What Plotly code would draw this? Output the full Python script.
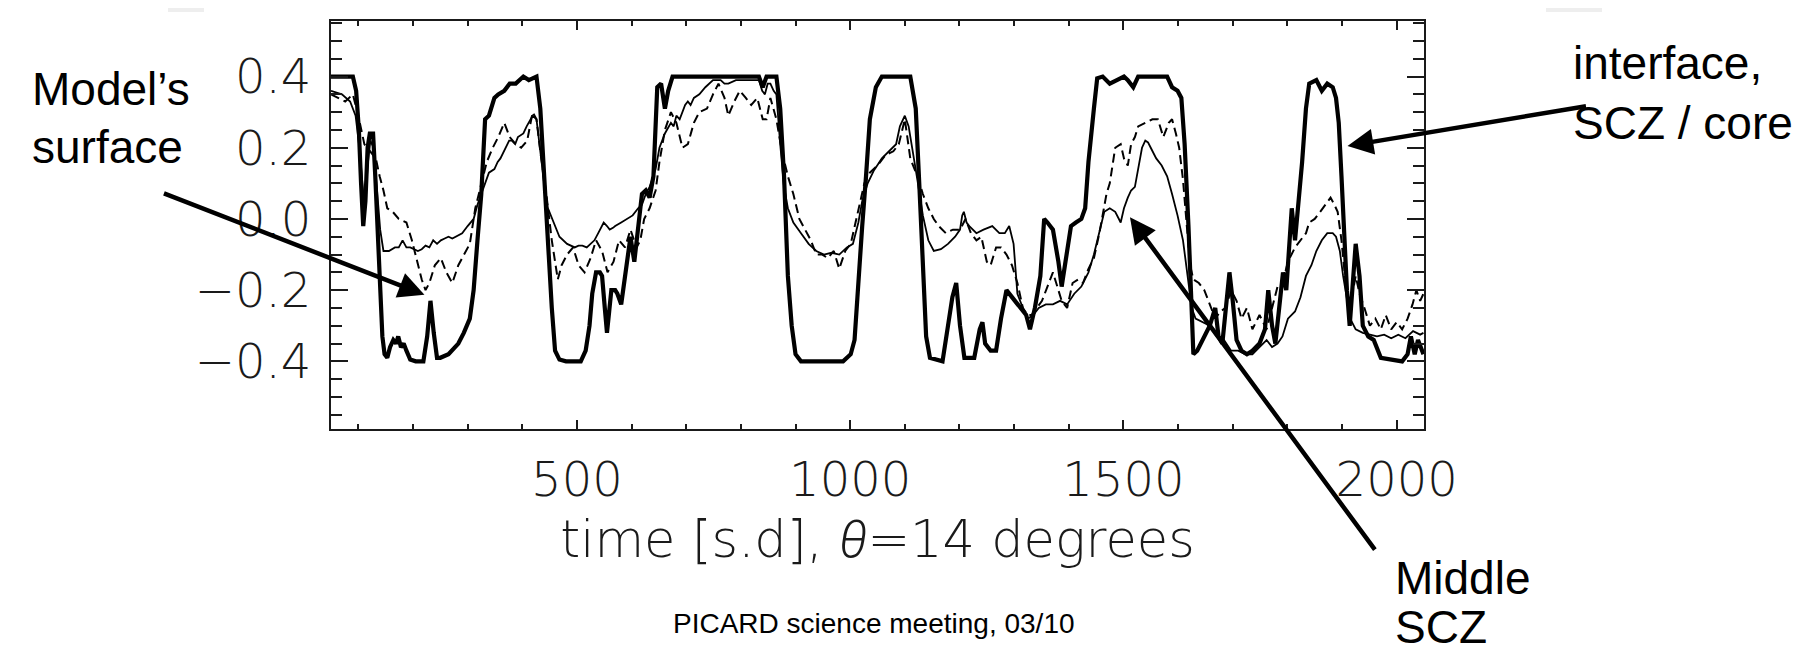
import plotly.graph_objects as go

# ---------------- data ----------------
# interface, SCZ / core  (bold line)
t_core = [50, 90, 96, 101, 105, 109, 113, 117, 121, 127, 131, 136, 140, 144, 148, 153, 158, 164, 169, 173,
          178, 183, 188, 195, 205, 219, 226, 232, 238, 244, 250, 265, 283, 293, 304, 311, 318, 325, 332, 339,
          349, 356, 367, 377, 388, 395, 402, 412, 426, 433, 440, 447, 454, 460, 468, 480, 507, 516, 523, 528,
          535, 542, 546, 551, 555, 559, 563, 570, 574, 581, 586, 591, 598, 605, 612, 619, 626, 633, 640, 644,
          647, 654, 658, 661, 667, 675, 833, 840, 847, 865, 872, 879, 886, 893, 900, 910, 987, 1001, 1008, 1015,
          1022, 1029, 1036, 1047, 1058, 1110, 1120, 1127, 1133, 1139, 1146, 1169, 1179, 1187, 1194, 1201, 1209, 1227, 1237, 1242,
          1247, 1257, 1267, 1276, 1286, 1296, 1302, 1312, 1322, 1329, 1338, 1348, 1355, 1361, 1371, 1381, 1387, 1394, 1404, 1413,
          1423, 1430, 1436, 1446, 1452, 1462, 1475, 1488, 1501, 1508, 1518, 1527, 1580, 1589, 1599, 1606, 1612, 1619, 1624, 1628,
          1635, 1645, 1658, 1668, 1674, 1681, 1687, 1694, 1700, 1707, 1716, 1726, 1736, 1749, 1759, 1765, 1772, 1778, 1785, 1792,
          1798, 1808, 1814, 1820, 1827, 1834, 1840, 1853, 1863, 1873, 1883, 1889, 1894, 1899, 1904, 1909, 1914, 1919, 1925, 1932,
          1938, 1948, 1958, 1971, 1990, 2010, 2020, 2026, 2033, 2039, 2049]
v_core = [0.40, 0.40, 0.36, 0.25, 0.10, -0.02, 0.05, 0.20, 0.24, 0.24, 0.12, -0.05, -0.20, -0.33, -0.38, -0.39, -0.36, -0.34, -0.35, -0.33,
          -0.36, -0.35, -0.37, -0.395, -0.40, -0.40, -0.33, -0.23, -0.32, -0.39, -0.39, -0.38, -0.35, -0.32, -0.28, -0.20, -0.06, 0.07, 0.28, 0.29,
          0.34, 0.35, 0.36, 0.38, 0.38, 0.39, 0.40, 0.39, 0.40, 0.31, 0.12, -0.06, -0.25, -0.37, -0.395, -0.40, -0.40, -0.37, -0.30, -0.21,
          -0.15, -0.15, -0.16, -0.25, -0.32, -0.26, -0.20, -0.20, -0.21, -0.24, -0.18, -0.13, -0.05, -0.12, -0.01, 0.07, 0.08, 0.06, 0.12, 0.25,
          0.37, 0.38, 0.33, 0.31, 0.36, 0.40, 0.40, 0.37, 0.40, 0.40, 0.31, 0.12, -0.16, -0.30, -0.38, -0.40, -0.40, -0.38, -0.34, -0.16,
          -0.02, 0.12, 0.28, 0.37, 0.40, 0.40, 0.31, 0.08, -0.16, -0.33, -0.39, -0.40, -0.30, -0.22, -0.18, -0.30, -0.39, -0.39, -0.31, -0.29,
          -0.35, -0.37, -0.37, -0.28, -0.20, -0.22, -0.23, -0.25, -0.27, -0.31, -0.25, -0.16, 0.00, -0.01, -0.03, -0.12, -0.19, -0.12, -0.02, -0.01,
          0.00, 0.03, 0.16, 0.31, 0.395, 0.40, 0.38, 0.39, 0.40, 0.39, 0.37, 0.40, 0.40, 0.37, 0.36, 0.34, 0.21, -0.02, -0.20, -0.38,
          -0.37, -0.34, -0.30, -0.25, -0.33, -0.35, -0.25, -0.15, -0.23, -0.34, -0.37, -0.38, -0.37, -0.35, -0.31, -0.20, -0.30, -0.35, -0.25, -0.15,
          -0.20, 0.03, -0.06, 0.03, 0.16, 0.31, 0.38, 0.39, 0.36, 0.38, 0.37, 0.34, 0.27, 0.12, -0.07, -0.20, -0.30, -0.20, -0.07, -0.16,
          -0.30, -0.33, -0.34, -0.39, -0.395, -0.40, -0.38, -0.33, -0.38, -0.34, -0.38]

# Middle SCZ (thin solid line)
t_mid = [50, 70, 85, 95, 102, 108, 112, 117, 122, 128, 134, 140, 146, 156, 167, 174, 181, 188, 195, 209,
         216, 223, 230, 237, 244, 251, 258, 265, 272, 279, 290, 300, 311, 318, 325, 332, 339, 349, 355, 360,
         370, 376, 381, 387, 392, 402, 408, 412, 419, 426, 433, 440, 447, 458, 468, 482, 489, 496, 503, 510,
         518, 525, 532, 539, 549, 555, 560, 566, 570, 581, 591, 602, 612, 619, 626, 633, 644, 651, 661, 672,
         677, 682, 688, 693, 698, 703, 708, 714, 724, 735, 742, 749, 763, 770, 777, 791, 805, 819, 833, 839,
         844, 849, 854, 860, 865, 872, 879, 886, 896, 910, 924, 938, 952, 966, 980, 994, 1005, 1015, 1022, 1032,
         1043, 1058, 1072, 1084, 1091, 1100, 1107, 1117, 1123, 1133, 1143, 1153, 1166, 1179, 1192, 1201, 1205, 1208, 1213, 1218,
         1231, 1244, 1252, 1260, 1273, 1283, 1291, 1299, 1306, 1316, 1325, 1335, 1345, 1358, 1371, 1384, 1397, 1410, 1423, 1436,
         1446, 1456, 1465, 1475, 1485, 1495, 1501, 1508, 1514, 1521, 1527, 1534, 1540, 1545, 1550, 1560, 1570, 1580, 1589, 1599,
         1609, 1619, 1625, 1632, 1645, 1658, 1671, 1684, 1697, 1710, 1723, 1736, 1749, 1762, 1772, 1782, 1791, 1801, 1814, 1824,
         1834, 1844, 1853, 1863, 1873, 1883, 1889, 1896, 1902, 1909, 1915, 1925, 1938, 1951, 1964, 1977, 1990, 2003, 2016, 2030,
         2043, 2049]
v_mid = [0.36, 0.35, 0.33, 0.29, 0.20, 0.08, 0.02, 0.15, 0.22, 0.20, 0.08, -0.03, -0.09, -0.09, -0.08, -0.08, -0.06, -0.08, -0.08, -0.09,
         -0.085, -0.075, -0.08, -0.06, -0.07, -0.06, -0.055, -0.05, -0.055, -0.05, -0.04, -0.02, 0.00, 0.04, 0.07, 0.10, 0.13, 0.14, 0.16, 0.17,
         0.20, 0.22, 0.22, 0.21, 0.23, 0.24, 0.26, 0.27, 0.29, 0.28, 0.19, 0.10, 0.03, -0.01, -0.05, -0.07, -0.075, -0.08, -0.075, -0.075,
         -0.08, -0.07, -0.06, -0.04, -0.01, -0.02, -0.03, -0.025, -0.02, -0.01, 0.00, 0.01, 0.03, 0.04, 0.07, 0.09, 0.14, 0.20, 0.24, 0.27,
         0.26, 0.29, 0.28, 0.30, 0.32, 0.33, 0.32, 0.34, 0.35, 0.37, 0.38, 0.39, 0.39, 0.38, 0.38, 0.39, 0.39, 0.39, 0.39, 0.36,
         0.35, 0.38, 0.38, 0.36, 0.35, 0.21, 0.09, 0.03, -0.01, -0.04, -0.07, -0.09, -0.10, -0.095, -0.10, -0.08, -0.07, -0.01, 0.05, 0.10,
         0.135, 0.17, 0.19, 0.21, 0.26, 0.29, 0.26, 0.17, 0.11, 0.01, -0.06, -0.09, -0.085, -0.07, -0.05, -0.03, 0.01, 0.02, -0.01, -0.02,
         -0.04, -0.03, -0.025, -0.02, -0.04, -0.04, -0.02, -0.07, -0.21, -0.25, -0.28, -0.27, -0.25, -0.24, -0.24, -0.23, -0.24, -0.21, -0.19, -0.15,
         -0.10, -0.04, 0.02, 0.03, 0.02, -0.01, 0.03, 0.06, 0.08, 0.09, 0.14, 0.20, 0.22, 0.215, 0.20, 0.17, 0.15, 0.12, 0.07, 0.01,
         -0.06, -0.17, -0.25, -0.28, -0.29, -0.30, -0.33, -0.34, -0.37, -0.37, -0.38, -0.38, -0.36, -0.34, -0.36, -0.35, -0.33, -0.28, -0.26, -0.22,
         -0.16, -0.13, -0.09, -0.06, -0.04, -0.04, -0.05, -0.09, -0.16, -0.23, -0.28, -0.31, -0.32, -0.325, -0.33, -0.325, -0.335, -0.325, -0.335, -0.315,
         -0.325, -0.32]

# Model's surface (dashed line)
t_surf = [50, 62, 76, 90, 100, 111, 121, 132, 139, 146, 153, 163, 174, 181, 188, 198, 209, 216, 223, 230,
          240, 251, 261, 272, 283, 293, 304, 314, 325, 335, 346, 356, 367, 377, 388, 398, 409, 419, 426, 433,
          444, 454, 465, 472, 482, 493, 503, 514, 525, 535, 546, 556, 567, 577, 588, 598, 609, 616, 623, 633,
          644, 651, 661, 672, 682, 693, 703, 714, 724, 738, 749, 759, 770, 777, 788, 798, 809, 819, 830, 840,
          847, 854, 865, 875, 886, 896, 907, 917, 928, 938, 949, 959, 970, 980, 991, 1001, 1015, 1026, 1036, 1050,
          1065, 1079, 1089, 1100, 1110, 1123, 1133, 1143, 1153, 1162, 1175, 1188, 1201, 1211, 1221, 1231, 1240, 1250, 1257, 1267,
          1276, 1286, 1296, 1306, 1316, 1325, 1332, 1342, 1351, 1361, 1371, 1377, 1387, 1397, 1407, 1417, 1426, 1436, 1446, 1456,
          1462, 1469, 1475, 1485, 1495, 1501, 1508, 1514, 1521, 1527, 1540, 1553, 1563, 1573, 1583, 1589, 1596, 1602, 1609, 1615,
          1622, 1628, 1638, 1648, 1658, 1668, 1677, 1687, 1697, 1707, 1716, 1726, 1736, 1749, 1762, 1772, 1782, 1791, 1801, 1814,
          1824, 1834, 1840, 1850, 1860, 1870, 1879, 1886, 1892, 1899, 1906, 1912, 1919, 1925, 1932, 1941, 1951, 1961, 1971, 1980,
          1990, 2000, 2010, 2020, 2029, 2036, 2043, 2049]
v_surf = [0.35, 0.34, 0.33, 0.35, 0.29, 0.21, 0.19, 0.17, 0.12, 0.08, 0.03, 0.02, 0.00, -0.005, -0.01, -0.06, -0.13, -0.17, -0.20, -0.18,
          -0.13, -0.11, -0.15, -0.18, -0.13, -0.10, -0.07, 0.03, 0.10, 0.16, 0.20, 0.23, 0.27, 0.23, 0.21, 0.20, 0.22, 0.30, 0.28, 0.19,
          0.07, -0.06, -0.17, -0.13, -0.10, -0.08, -0.13, -0.15, -0.11, -0.06, -0.09, -0.15, -0.12, -0.06, -0.08, -0.03, -0.08, -0.06, 0.00, 0.03,
          0.08, 0.16, 0.25, 0.30, 0.27, 0.20, 0.21, 0.27, 0.30, 0.31, 0.35, 0.38, 0.34, 0.29, 0.33, 0.36, 0.34, 0.32, 0.34, 0.28,
          0.28, 0.34, 0.28, 0.19, 0.12, 0.07, 0.00, -0.03, -0.06, -0.10, -0.10, -0.11, -0.09, -0.14, -0.09, -0.07, 0.03, 0.10, 0.13, 0.15,
          0.18, 0.19, 0.21, 0.28, 0.17, 0.12, 0.07, 0.03, 0.00, -0.02, -0.04, -0.03, -0.03, 0.00, -0.04, -0.06, -0.05, -0.12, -0.13, -0.08,
          -0.08, -0.10, -0.13, -0.18, -0.25, -0.27, -0.27, -0.25, -0.23, -0.19, -0.15, -0.18, -0.23, -0.25, -0.18, -0.17, -0.18, -0.14, -0.11, -0.04,
          0.01, 0.07, 0.10, 0.20, 0.21, 0.17, 0.15, 0.21, 0.23, 0.26, 0.27, 0.28, 0.28, 0.23, 0.27, 0.28, 0.24, 0.20, 0.11, -0.01,
          -0.13, -0.17, -0.18, -0.20, -0.24, -0.28, -0.26, -0.25, -0.20, -0.23, -0.28, -0.25, -0.31, -0.27, -0.31, -0.25, -0.19, -0.18, -0.12, -0.08,
          -0.06, -0.04, -0.01, 0.00, 0.02, 0.04, 0.06, 0.04, 0.02, -0.06, -0.17, -0.23, -0.21, -0.16, -0.21, -0.25, -0.30, -0.28, -0.31, -0.27,
          -0.31, -0.29, -0.31, -0.28, -0.24, -0.20, -0.23, -0.21]

x_range = [50, 2050]
y_range = [-0.59, 0.556]
x_title = ("time [s.d], "
           "<span style=\"font-family:Roboto;font-weight:300;font-style:italic\">θ</span>"
           "=14 degrees")

# ---------------- layout helpers ----------------
W, H = 1810, 650
PL, PR, PT, PB = 323, 1416, 13, 421          # plot area in pixels


def px(x):
    return (x - PL) / (PR - PL)


def py(y):
    return (PB - y) / (PB - PT)


INK = "#1a1a1a"
tick_font = dict(family="DejaVu Sans", size=48, weight=200, color=INK)
title_font = dict(family="DejaVu Sans", size=51, weight=200, color=INK)
note_font = dict(family="Liberation Sans, Arial", size=46, color="black")

fig = go.Figure()
fig.add_trace(go.Scatter(x=t_core, y=v_core, mode="lines", name="interface, SCZ / core",
                         line=dict(color="black", width=4.2)))
fig.add_trace(go.Scatter(x=t_mid, y=v_mid, mode="lines", name="Middle SCZ",
                         line=dict(color="black", width=1.8)))
fig.add_trace(go.Scatter(x=t_surf, y=v_surf, mode="lines", name="Model's surface",
                         line=dict(color="black", width=2.0, dash="9px,5px")))

axis_common = dict(showline=True, linewidth=2, linecolor=INK, mirror="allticks",
                   showgrid=False, zeroline=False, ticks="inside", tickwidth=2, tickcolor=INK,
                   tickfont=tick_font)

fig.update_xaxes(range=x_range, tick0=0, dtick=500, ticklen=9, ticklabelstandoff=7,
                 minor=dict(tick0=0, dtick=100, ticks="inside", ticklen=5, tickwidth=2,
                            tickcolor=INK, showgrid=False),
                 title=dict(text=x_title, font=title_font, standoff=16),
                 **axis_common)
fig.update_yaxes(range=y_range, tick0=0, dtick=0.2, tickformat=".1f", ticklen=17, ticklabelstandoff=8,
                 minor=dict(tick0=0, dtick=0.05, ticks="inside", ticklen=11, tickwidth=2,
                            tickcolor=INK, showgrid=False),
                 **axis_common)

annotations = []
# text labels
for txt, x0, y0 in [("Model’s", 22, 81), ("surface", 22, 139),
                    ("interface,", 1563, 55), ("SCZ / core", 1563, 115),
                    ("Middle", 1385, 570), ("SCZ", 1385, 619)]:
    annotations.append(dict(text=txt, xref="paper", yref="paper", x=px(x0), y=py(y0),
                            xanchor="left", yanchor="middle", showarrow=False, font=note_font))
annotations.append(dict(text="PICARD science meeting, 03/10", xref="paper", yref="paper",
                        x=px(866), y=py(615), xanchor="center", yanchor="middle", showarrow=False,
                        font=dict(family="Liberation Sans, Arial", size=28, color="black")))

# arrows (tip in data coordinates, tail offset in pixels)
for tip_x, tip_y, ax, ay in [(221, -0.213, -262, -102), (1910, 0.205, 240, -40), (1512, 0.005, 246, 334)]:
    annotations.append(dict(text="", x=tip_x, y=tip_y, xref="x", yref="y", ax=ax, ay=ay,
                            showarrow=True, arrowhead=2, arrowsize=1.15, arrowwidth=4.5,
                            arrowcolor="black", standoff=0, startstandoff=0))

shapes = [
    dict(type="rect", xref="paper", yref="paper", x0=px(160), x1=px(196), y0=py(4), y1=py(0),
         fillcolor="#eeeeee", line=dict(width=0), layer="below"),
    dict(type="rect", xref="paper", yref="paper", x0=px(1538), x1=px(1594), y0=py(4), y1=py(0),
         fillcolor="#eeeeee", line=dict(width=0), layer="below"),
]

fig.update_layout(width=W, height=H, showlegend=False,
                  margin=dict(l=PL, r=W - PR, t=PT, b=H - PB, autoexpand=False),
                  paper_bgcolor="white", plot_bgcolor="white",
                  annotations=annotations, shapes=shapes)

fig.write_html("out.html")
